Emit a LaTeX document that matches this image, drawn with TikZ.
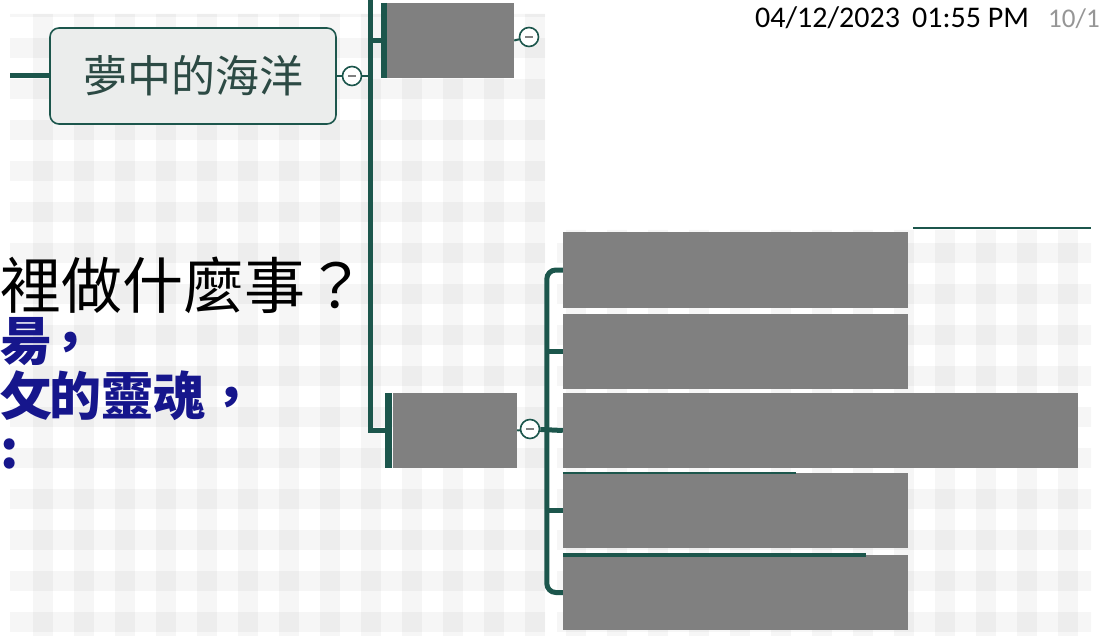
\documentclass[tikz,border=0pt]{standalone}
\usepackage{fontspec}
\newfontfamily\cjk{Noto Sans CJK TC}
\newfontfamily\datefont{Carlito}
\definecolor{mapline}{RGB}{28,86,76}
\definecolor{topicgray}{RGB}{128,128,128}
\definecolor{rootfill}{RGB}{235,237,236}
\definecolor{roottext}{RGB}{44,74,68}
\definecolor{inkblue}{RGB}{22,22,140}
\definecolor{pagegray}{RGB}{150,150,150}

\tikzset{
  trunk/.style={draw=mapline, line width=5pt},
  twig/.style={draw=mapline, line width=2pt},
  topic/.style={fill=topicgray, inner sep=0pt, minimum height=75pt},
  toggle/.style={circle, draw=mapline, line width=1.6pt, fill=white, minimum size=19pt, inner sep=0pt,
    path picture={\draw[topicgray, line width=1.4pt] ([xshift=-4pt]path picture bounding box.center) -- ([xshift=4pt]path picture bounding box.center);}},
  stamp/.style={anchor=base west, inner sep=0pt, font=\datefont\fontsize{30}{30}\selectfont},
  kai/.style={anchor=base west, inner sep=0pt},
  bluekai/.style={kai, text=inkblue, font=\cjk\bfseries\fontsize{52}{52}\selectfont},
}

\begin{document}
\begin{tikzpicture}[x=1pt,y=1pt,yscale=-1,xscale=1]
        \useasboundingbox (0,0) rectangle (1102,636);
        \clip (0,0) rectangle (1102,636);
        \fill[white] (0,0) rectangle (1102,636);

        %Shape: checker background
        \begin{scope}
          \clip (10,14) rectangle (545,636) (557,230) rectangle (1091,636);
          \foreach \cx in {33,74,...,1100} \fill[black, opacity=0.035] (\cx,0) rectangle ++(20,636);
          \foreach \cy in {-3,38,...,640} \fill[black, opacity=0.035] (0,\cy) rectangle ++(1102,20);
        \end{scope}

        % Text Node
        \node[stamp] (date) at (755,28) {04/12/2023};
        \node[stamp] (time) at (912,28) {01:55 PM};
        \node[stamp, text=pagegray, font=\datefont\fontsize{27}{27}\selectfont] (page) at (1048,28) {10/1};

        % Text Node
        \node[kai, font=\cjk\fontsize{61}{61}\selectfont] (ask) at (0,308) {裡做什麼事？};
        \node[bluekai] (sun) at (0,360) {昜\hspace{-8pt}，};
        \node[bluekai] (soul) at (0,415) {攵\hspace{-3pt}的靈魂，};
        \node[bluekai] (colon) at (0,468) {:};

        %Shape: root topic
        \node[draw=mapline, line width=1.6pt, rounded corners=9pt, fill=rootfill, minimum width=286pt, minimum height=96pt,
              text=roottext, font=\cjk\fontsize{44}{44}\selectfont] (root) at (193,76) {夢中的海洋};
        \coordinate (stub) at (10,76);
        \draw[trunk] (stub) -- (root.west);

        %Shape: hidden topics
        \node[topic, minimum width=127pt] (topbox) at (450.5,40.5) {};
        \node[topic, minimum width=124pt] (midbox) at (455,430.5) {};
        \node[topic, minimum width=345pt, minimum height=76pt] (b1) at (735.5,270) {};
        \node[topic, minimum width=345pt] (b2) at (735.5,351.5) {};
        \node[topic, minimum width=515pt] (b3) at (820.5,430.5) {};
        \node[topic, minimum width=345pt] (b4) at (735.5,510.5) {};
        \node[topic, minimum width=345pt] (b5) at (735.5,592.5) {};

        %Shape: toggles
        \node[toggle] (tog1) at (352,76) {};
        \node[toggle] (tog2) at (529,37) {};
        \node[toggle] (tog3) at (530,429) {};

        %Straight Lines: main trunk
        \coordinate (trtop) at (370,0);
        \draw[twig] (root.east) -- (tog1);
        \draw[twig] (tog1) -- (trtop |- tog1);
        \draw[trunk] (trtop) |- ([xshift=-4pt]midbox.west);
        \draw[trunk] (trtop |- topbox.west) -- ([xshift=-4pt]topbox.west);
        \draw[mapline, line width=6pt] ([xshift=-3pt]topbox.north west) -- ([xshift=-3pt,]topbox.south west);
        \draw[mapline, line width=7pt] ([xshift=-4pt]midbox.north west) -- ([xshift=-4pt]midbox.south west);
        \draw[twig] (topbox.east) -- (tog2);

        %Straight Lines: right trunk
        \draw[twig] (midbox.east) -- (tog3);
        \draw[trunk] (tog3) -- (b3.west);
        \draw[trunk, rounded corners=9pt] (b1.west) -- ++(-16,0) |- (b5.west);
        \draw[trunk] (b2.west) -- ++(-16,0);
        \draw[trunk] (b4.west) -- ++(-16,0);

        %Straight Lines: stray edges
        \draw[twig] (b4.north west) -- ++(233,0);
        \draw[mapline, line width=4pt] (b5.north west) -- ++(303,0);
        \coordinate (rline) at (913,228);
        \draw[mapline, line width=2.5pt] (rline) -- ++(178,0);

\end{tikzpicture}
\end{document}
